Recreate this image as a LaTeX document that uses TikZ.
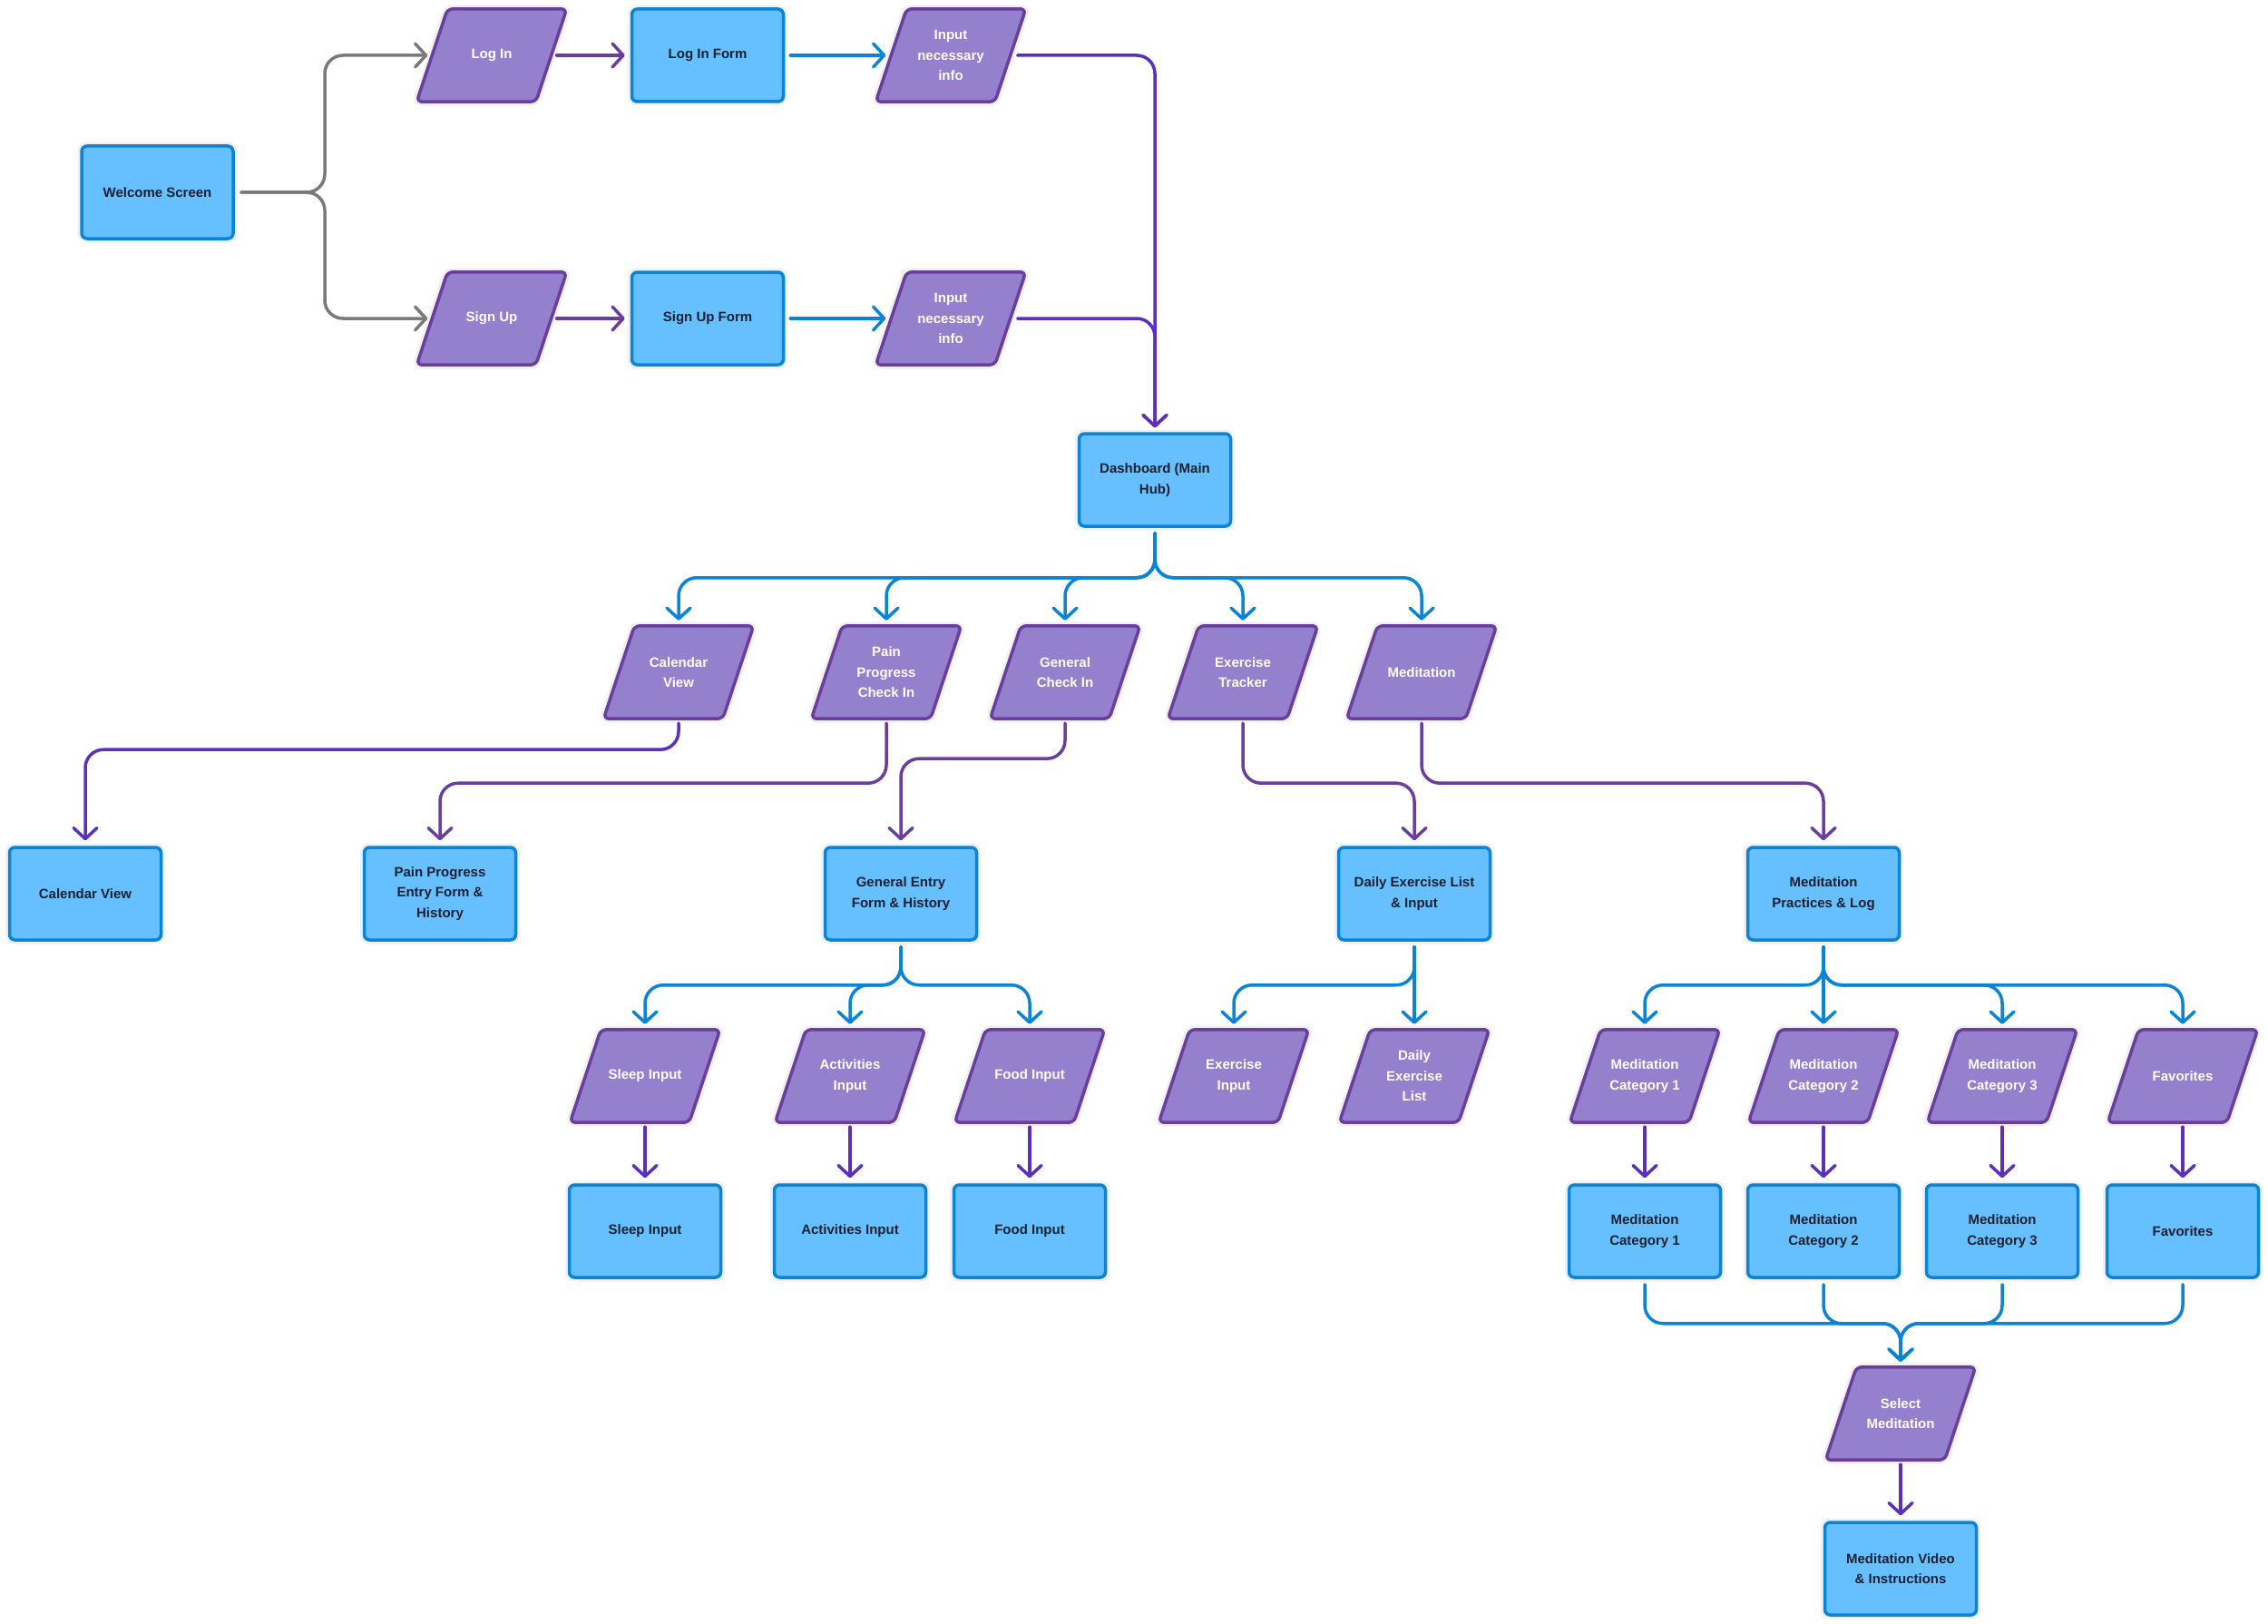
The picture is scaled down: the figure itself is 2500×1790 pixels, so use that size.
\documentclass[tikz,border=0pt]{standalone}
\usepackage{fontspec}
\setmainfont{Liberation Sans}
\usetikzlibrary{arrows.meta,backgrounds,calc}
\definecolor{boxfill}{HTML}{66BFFF}
\definecolor{boxline}{HTML}{0A84D6}
\definecolor{pfill}{HTML}{9580CE}
\definecolor{pline}{HTML}{6A3E9C}
\definecolor{violetc}{HTML}{5B30BE}
\definecolor{grayc}{HTML}{7A7A7A}
\definecolor{btext}{HTML}{1B2130}
\tikzset{
 txt/.style={font=\fontsize{15}{22.4}\selectfont\bfseries},
 box/.style={txt, rectangle, rounded corners=6pt, fill=boxfill, draw=boxline, line width=3.5pt,
   minimum width=167pt, minimum height=102pt, inner sep=0pt, align=center, text=btext,
   preaction={draw=black!6, line width=9pt}},
 ptxt/.style={txt, rectangle, minimum width=131pt, minimum height=102pt, inner sep=0pt, align=center, text=white},
 pshape/.style={fill=pfill, draw=pline, line width=3.5pt, rounded corners=6pt, line join=round,
   preaction={draw=black!6, line width=9pt}},
 conn/.style={line width=3.5pt, rounded corners=20pt, line cap=round,
   -{Straight Barb[length=12pt,width=26pt,round]}, shorten <=6pt, shorten >=6pt},
}
\newcommand\mkpara[3]{%
  \node[ptxt] (#1) at (#2) {#3};
  \begin{pgfonlayer}{background}
  \filldraw[pshape] ([xshift=17pt]#1.north west) -- ([xshift=17pt]#1.north east)
     -- ([xshift=-17pt]#1.south east) -- ([xshift=-17pt]#1.south west) -- cycle;
  \end{pgfonlayer}
}
\begin{document}
\begin{tikzpicture}[x=1pt,y=-1pt]
\useasboundingbox (0,0) rectangle (2500,1790);
% row 1/2
\node[box] (welcome) at (173.5,212) {Welcome Screen};
\mkpara{login}{542,61}{Log In}
\node[box] (loginform) at (780,61) {Log In Form};
\mkpara{inone}{1048,61}{Input\\necessary\\info}
\mkpara{signup}{542,351}{Sign Up}
\node[box] (signupform) at (780,351) {Sign Up Form};
\mkpara{intwo}{1048,351}{Input\\necessary\\info}
\node[box] (dash) at (1273,529) {Dashboard (Main\\Hub)};
% level 3
\mkpara{cal}{748,741}{Calendar\\View}
\mkpara{pain}{977,741}{Pain\\Progress\\Check In}
\mkpara{gen}{1174,741}{General\\Check In}
\mkpara{exer}{1370,741}{Exercise\\Tracker}
\mkpara{med}{1567,741}{Meditation}
% level 4
\node[box] (calbox) at (94,985) {Calendar View};
\node[box] (painbox) at (485,985) {Pain Progress\\Entry Form \&\\History};
\node[box] (genbox) at (993,985) {General Entry\\Form \& History};
\node[box] (dailybox) at (1559,985) {Daily Exercise List\\\& Input};
\node[box] (medbox) at (2010,985) {Meditation\\Practices \& Log};
% level 5
\mkpara{sleep}{711,1186}{Sleep Input}
\mkpara{act}{937,1186}{Activities\\Input}
\mkpara{food}{1135,1186}{Food Input}
\mkpara{exin}{1360,1186}{Exercise\\Input}
\mkpara{dlist}{1559,1186}{Daily\\Exercise\\List}
\mkpara{mcone}{1813,1186}{Meditation\\Category 1}
\mkpara{mctwo}{2010,1186}{Meditation\\Category 2}
\mkpara{mcthree}{2207,1186}{Meditation\\Category 3}
\mkpara{fav}{2406,1186}{Favorites}
% level 6
\node[box] (sleepbox) at (711,1357) {Sleep Input};
\node[box] (actbox) at (937,1357) {Activities Input};
\node[box] (foodbox) at (1135,1357) {Food Input};
\node[box] (mconebox) at (1813,1357) {Meditation\\Category 1};
\node[box] (mctwobox) at (2010,1357) {Meditation\\Category 2};
\node[box] (mcthreebox) at (2207,1357) {Meditation\\Category 3};
\node[box] (favbox) at (2406,1357) {Favorites};
\mkpara{sel}{2095,1558}{Select\\Meditation}
\node[box] (video) at (2095,1729) {Meditation Video\\\& Instructions};

% connectors: top
\draw[conn, grayc, shorten <=7pt, shorten >=5pt] (welcome.east) -- (358,212) -- (358,61) -- (login.west);
\draw[conn, grayc, shorten <=7pt, shorten >=5pt] (welcome.east) -- (358,212) -- (358,351) -- (signup.west);
\draw[conn, pline] (login.east) -- (loginform.west);
\draw[conn, pline] (signup.east) -- (signupform.west);
\draw[conn, boxline] (loginform.east) -- (inone.west);
\draw[conn, boxline] (signupform.east) -- (intwo.west);
\draw[conn, violetc, shorten <=8pt, shorten >=5pt] (inone.east) -- (inone.east -| dash.north) -- (dash.north);
\draw[conn, violetc, shorten <=8pt, shorten >=5pt] (intwo.east) -- (intwo.east -| dash.north) -- (dash.north);
% dashboard bus
\foreach \t in {cal,pain,gen,exer,med}
  \draw[conn, boxline] (dash.south) -- ++(0,55) -| (\t.north);
% level 3 -> 4
\draw[conn, violetc, shorten <=5pt] (cal.south) -- ++(0,34) -| (calbox.north);
\draw[conn, pline, shorten <=5pt] (pain.south) -- ++(0,71) -| (painbox.north);
\draw[conn, pline, shorten <=5pt] (gen.south) -- ++(0,44) -| (genbox.north);
\draw[conn, pline, shorten <=5pt] (exer.south) -- ++(0,71) -| (dailybox.north);
\draw[conn, pline, shorten <=5pt] (med.south) -- ++(0,71) -| (medbox.north);
% level 4 -> 5
\foreach \t in {sleep,act,food}
  \draw[conn, boxline] (genbox.south) -- ++(0,48) -| (\t.north);
\draw[conn, boxline] (dailybox.south) -- ++(0,48) -| (exin.north);
\draw[conn, boxline] (dailybox.south) -- (dlist.north);
\foreach \t in {mcone,mcthree,fav}
  \draw[conn, boxline] (medbox.south) -- ++(0,48) -| (\t.north);
\draw[conn, boxline] (medbox.south) -- (mctwo.north);
% level 5 -> 6
\draw[conn, violetc, shorten <=5pt] (sleep.south) -- (sleepbox.north);
\draw[conn, violetc, shorten <=5pt] (act.south) -- (actbox.north);
\draw[conn, violetc, shorten <=5pt] (food.south) -- (foodbox.north);
\draw[conn, violetc, shorten <=5pt] (mcone.south) -- (mconebox.north);
\draw[conn, violetc, shorten <=5pt] (mctwo.south) -- (mctwobox.north);
\draw[conn, violetc, shorten <=5pt] (mcthree.south) -- (mcthreebox.north);
\draw[conn, violetc, shorten <=5pt] (fav.south) -- (favbox.north);
% level 6 -> select
\foreach \t in {mconebox,mctwobox,mcthreebox,favbox}
  \draw[conn, boxline] (\t.south) -- ++(0,49) -| (sel.north);
\draw[conn, violetc, shorten <=5pt] (sel.south) -- (video.north);
\end{tikzpicture}
\end{document}
